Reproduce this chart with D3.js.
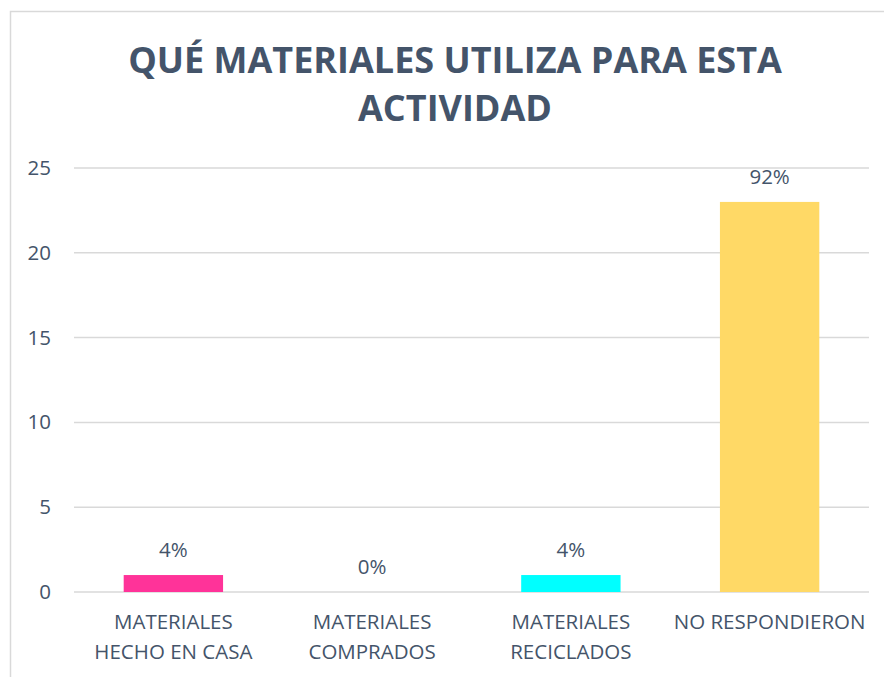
<!DOCTYPE html>
<html>
<head>
<meta charset="utf-8">
<script src="https://cdn.jsdelivr.net/npm/d3@7"></script>
<style>
  body { margin: 0; background: #fff; }
  svg { display: block; font-family: "Open Sans", sans-serif; }
</style>
</head>
<body>
<div class="chart"></div>
<script>
// data
var categories = [["MATERIALES", "HECHO EN CASA"], ["MATERIALES", "COMPRADOS"], ["MATERIALES", "RECICLADOS"], ["NO RESPONDIERON"]];
var counts = [1, 0, 1, 23];
var percentLabels = ["4%", "0%", "4%", "92%"];
var barColors = ["#FF3399", "#FF3399", "#00FFFF", "#FFD966"];
var yTicks = [0, 5, 10, 15, 20, 25];
var titleLines = ["QUÉ MATERIALES UTILIZA PARA ESTA", "ACTIVIDAD"];

var svgWidth = 884;
var svgHeight = 677;
var textColor = "#44546A";
var labelSize = 20.5;

var svg = d3.select(".chart")
    .append("svg")
    .attr("width", svgWidth)
    .attr("height", svgHeight);

// chart border
svg.append("rect")
    .attr("x", 10.5)
    .attr("y", 11.5)
    .attr("width", 890)
    .attr("height", 690)
    .attr("fill", "#fff")
    .attr("stroke", "#D9D9D9")
    .attr("stroke-width", 1.5);

// title
svg.append("text")
    .attr("text-anchor", "middle")
    .attr("fill", textColor)
    .attr("font-weight", "bold")
    .attr("font-size", 36)
    .selectAll("tspan")
    .data(titleLines)
    .enter()
    .append("tspan")
    .attr("x", 455)
    .attr("y", (d, i) => 73 + i * 48)
    .text(d => d);

var x = d3.scaleBand()
    .domain(d3.range(categories.length))
    .range([74, 869])
    .paddingInner(0.5)
    .paddingOuter(0.25);

var y = d3.scaleLinear()
    .domain([0, 25])
    .range([592, 168]);

// gridlines
svg.append("g")
    .selectAll("line")
    .data(yTicks)
    .enter()
    .append("line")
    .attr("x1", 74)
    .attr("x2", 869)
    .attr("y1", d => y(d))
    .attr("y2", d => y(d))
    .attr("stroke", "#D9D9D9")
    .attr("stroke-width", 1.5);

// y axis labels
var yAxis = d3.axisLeft(y).tickValues(yTicks).tickSize(0).tickPadding(0);
var yg = svg.append("g")
    .attr("transform", "translate(51,0)")
    .call(yAxis);
yg.select(".domain").remove();
yg.selectAll("text")
    .attr("fill", textColor)
    .attr("font-size", labelSize)
    .attr("font-family", "Open Sans, sans-serif");

// bars
svg.append("g")
    .selectAll("rect")
    .data(counts)
    .enter()
    .append("rect")
    .attr("x", (d, i) => x(i))
    .attr("y", d => y(d))
    .attr("width", x.bandwidth())
    .attr("height", d => y(0) - y(d))
    .attr("fill", (d, i) => barColors[i]);

// value labels
svg.append("g")
    .selectAll("text")
    .data(counts)
    .enter()
    .append("text")
    .attr("x", (d, i) => x(i) + x.bandwidth() / 2)
    .attr("y", d => y(d) - 18)
    .attr("text-anchor", "middle")
    .attr("fill", textColor)
    .attr("font-size", labelSize)
    .text((d, i) => percentLabels[i]);

// category labels
var catText = svg.append("g")
    .selectAll("text")
    .data(categories)
    .enter()
    .append("text")
    .attr("text-anchor", "middle")
    .attr("fill", textColor)
    .attr("font-size", labelSize);

catText.selectAll("tspan")
    .data((d, i) => d.map(s => ({ s: s, i: i })))
    .enter()
    .append("tspan")
    .attr("x", d => x(d.i) + x.bandwidth() / 2)
    .attr("y", (d, j) => 629 + j * 30)
    .text(d => d.s);
</script>
</body>
</html>
